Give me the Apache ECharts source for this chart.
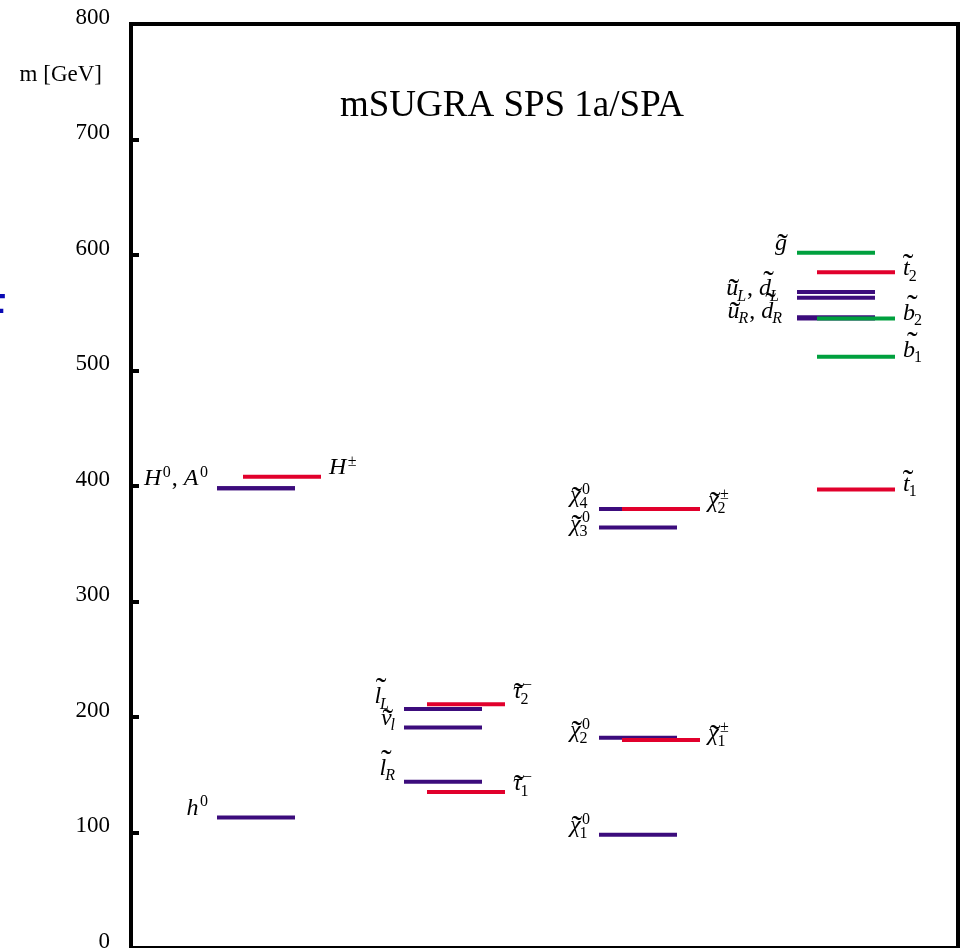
<!DOCTYPE html>
<html><head><meta charset="utf-8">
<script src="https://cdn.jsdelivr.net/npm/echarts@6/dist/echarts.min.js"></script>
<style>html,body{margin:0;padding:0;background:#fff;overflow:hidden}#c{width:963px;height:948px}</style>
</head><body><div id="c"></div><script>
// ---------------- data ----------------
const titleText = 'mSUGRA SPS 1a/SPA';
const axisTitle = 'm [GeV]';
const yMin = 0, yMax = 800, yStep = 100;

const particleIds = ['h0','H0','A0','Hpm','lL','nu','lR','tau2','tau1','chi1','chi2','chi3','chi4','chi1pm','chi2pm','gluino','uL','dL','uR','dR','t1','t2','b1','b2'];
const masses      = [113, 398, 398, 408, 207, 191, 144, 211, 135, 98, 182, 364, 380, 180, 380, 602, 568, 563, 546, 545, 397, 585, 512, 545];
const groups      = [0,0,0,0, 1,1,1,1,1, 2,2,2,2,2,2, 3,3,3,3,3,3,3,3,3];
const sides       = ['L','L','L','R', 'L','L','L','R','R', 'L','L','L','L','R','R', 'L','L','L','L','L','R','R','R','R'];
const colorKeys   = ['p','p','p','r', 'p','p','p','r','r', 'p','p','p','p','r','r', 'g','p','p','p','p','r','r','g','g'];

const labelTexts = ['h^0','H^0, A^0','H^\u00b1','l\u0303_L','\u03bd\u0303_l','l\u0303_R','\u03c4\u0303_2^\u2212','\u03c4\u0303_1^\u2212',
  '\u03c7\u0303_1^0','\u03c7\u0303_2^0','\u03c7\u0303_3^0','\u03c7\u0303_4^0','\u03c7\u0303_1^\u00b1','\u03c7\u0303_2^\u00b1',
  'g\u0303','u\u0303_L, d\u0303_L','u\u0303_R, d\u0303_R','t\u0303_1','t\u0303_2','b\u0303_1','b\u0303_2'];
const labelOf    = ['h0','H0','Hpm','lL','nu','lR','tau2','tau1','chi1','chi2','chi3','chi4','chi1pm','chi2pm','gluino','uL','uR','t1','t2','b1','b2'];

// ---------------- layout / style ----------------
const PLOT_W = 827;
const colLeft = [86, 273, 468, 666];
const colShift = [26, 23, 23, 20];
const lineLen = 78;
const colors = { p: '#3c0c7c', r: '#e1002c', g: '#00a03e' };
const baselineNudge = { h0:-1, H0:-1, Hpm:-1, lL:-4, nu:-1, lR:-5, tau2:-4, tau1:0, chi1:-1, chi2:1, chi3:5, chi4:-5, chi1pm:2, chi2pm:0, gluino:-1, uL:5, uR:2, t1:3, t2:5, b1:2, b2:3 };
const gapNudge = { lL: 6, gluino: 2, uL: 9, uR: 6 };
const FAM = '"Liberation Serif", "DejaVu Serif", serif';
const FS = 24, SFS = 16, TS = 32, GAP = 8;
const ASC = 'lbdhkf', MIDH = 't';

const mctx = document.createElement('canvas').getContext('2d');
function measure(t, size, italic) {
  mctx.font = (italic ? 'italic ' : 'normal ') + 'normal ' + size + 'px ' + FAM;
  return mctx.measureText(t).width;
}
const isLetter = c => /\p{L}/u.test(c);
function parseLabel(s) {
  const ch = Array.from(s.normalize('NFD')); const atoms = []; let i = 0;
  while (i < ch.length) {
    const a = { t: ch[i++] };
    a.italic = isLetter(a.t);
    while (i < ch.length && /[\u0300-\u036f]/.test(ch[i])) { if (ch[i] === '\u0303') a.tilde = true; i++; }
    while (i < ch.length && (ch[i] === '_' || ch[i] === '^')) {
      const k = ch[i++]; const v = ch[i++];
      if (k === '_') a.sub = v; else a.sup = v;
    }
    atoms.push(a);
  }
  return atoms;
}
function layoutLabel(s) {
  const atoms = parseLabel(s); const parts = []; let x = 0;
  atoms.forEach(a => {
    const w = measure(a.t, FS, a.italic);
    parts.push({ t: a.t, x: x, base: 0, size: FS, italic: a.italic, align: 'left' });
    if (a.tilde) {
      const h = ASC.indexOf(a.t) >= 0 ? 0.95 : (MIDH.indexOf(a.t) >= 0 ? 0.8 : 0.58);
      const skew = (ASC.indexOf(a.t) >= 0 ? 0.14 : 0.07) * FS;
      // ink centre of the spacing tilde sits ~0.62em above its own baseline
      parts.push({ t: '\u02dc', x: x + w / 2 + skew, base: -(h * FS - 0.62 * TS), size: TS, italic: false, align: 'center' });
    }
    let sw = 0;
    if (a.sup) { const it = isLetter(a.sup); const o = a.italic ? 1.5 : 0.5; parts.push({ t: a.sup, x: x + w + o, base: -9, size: SFS, italic: it, align: 'left' }); sw = Math.max(sw, measure(a.sup, SFS, it) + o); }
    if (a.sub) { const it = isLetter(a.sub); const o = a.italic ? -1 : 0.5; parts.push({ t: a.sub, x: x + w + o, base: 5, size: SFS, italic: it, align: 'left' }); sw = Math.max(sw, measure(a.sub, SFS, it) + o); }
    x += w + sw + (sw > 0 ? 1 : 0);
  });
  return { parts: parts, width: x };
}

const levelData = particleIds.map((id, i) => [groups[i], sides[i] === 'R' ? 1 : 0, masses[i], i]);
levelData.sort((a, b) => a[1] - b[1]);
const labelData = labelTexts.map((t, i) => [i]);

const chart = echarts.init(document.getElementById('c'), null, { renderer: 'canvas' });
chart.setOption({
  animation: false,
  backgroundColor: '#fff',
  grid: { left: 131, right: 5, top: 24, bottom: 0, outerBoundsMode: 'none', containLabel: false, show: true, borderColor: '#000', borderWidth: 4, backgroundColor: 'transparent' },
  xAxis: { type: 'value', min: 0, max: PLOT_W, show: false },
  yAxis: {
    type: 'value', min: yMin, max: yMax, interval: yStep,
    axisLine: { show: true, lineStyle: { color: '#000', width: 4 } },
    axisTick: { show: true, inside: true, length: 8, lineStyle: { color: '#000', width: 4 } },
    splitLine: { show: false },
    axisLabel: { show: true, margin: 21, color: '#000', fontFamily: FAM, fontSize: 23, verticalAlign: 'bottom', lineHeight: 13, showMinLabel: true, showMaxLabel: true }
  },
  graphic: [
    { type: 'text', x: 512, y: 106, style: { text: titleText, fontFamily: FAM, fontSize: 37, fill: '#000', align: 'center', verticalAlign: 'middle' } },
    { type: 'text', x: 102, y: 75, style: { text: axisTitle, fontFamily: FAM, fontSize: 23, fill: '#000', align: 'right', verticalAlign: 'middle' } },
    { type: 'text', x: -21, y: 317, style: { text: 'F', fontFamily: '"DejaVu Sans", sans-serif', fontSize: 50, fill: '#0a0ab4', align: 'left', verticalAlign: 'middle' } }
  ],
  series: [
    {
      type: 'custom', clip: false, z: 3,
      data: levelData,
      renderItem: function (params, api) {
        const col = api.value(0), side = api.value(1), m = api.value(2), idx = api.value(3);
        const x0 = colLeft[col] + side * colShift[col];
        const p1 = api.coord([x0, m]), p2 = api.coord([x0 + lineLen, m]);
        return { type: 'line', shape: { x1: p1[0], y1: p1[1], x2: p2[0], y2: p2[1] }, style: { stroke: colors[colorKeys[idx]], lineWidth: 4, lineCap: 'butt' } };
      }
    },
    {
      type: 'custom', clip: false, z: 4,
      data: labelData,
      renderItem: function (params, api) {
        const li = api.value(0);
        const id = labelOf[li];
        const pi = particleIds.indexOf(id);
        const col = groups[pi], right = sides[pi] === 'R';
        const x0 = colLeft[col] + (right ? colShift[col] : 0);
        const lay = layoutLabel(labelTexts[li]);
        const anchor = api.coord([right ? x0 + lineLen : x0, masses[pi]]);
        const gap = GAP + (gapNudge[id] || 0);
        const startX = right ? anchor[0] + gap : anchor[0] - gap - lay.width;
        const base = anchor[1] + (baselineNudge[id] || 0);
        return {
          type: 'group',
          children: lay.parts.map(p => ({
            type: 'text', x: startX + p.x, y: base + p.base - 0.34 * p.size,
            style: { text: p.t, fontFamily: FAM, fontSize: p.size, fontStyle: p.italic ? 'italic' : 'normal', fill: '#000', align: p.align, verticalAlign: 'middle' }
          }))
        };
      }
    }
  ]
});
</script></body></html>
